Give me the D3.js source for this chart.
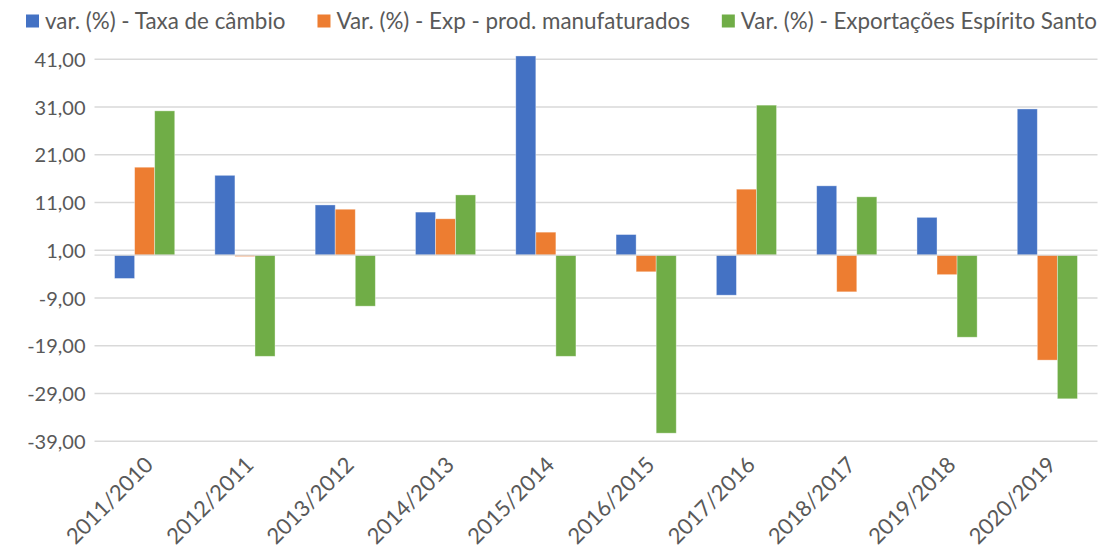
<!DOCTYPE html>
<html>
<head>
<meta charset="utf-8">
<script src="https://cdn.jsdelivr.net/npm/d3@7"></script>
<style>
    body { margin: 0; background: #fff; }
    text { font-family: Lato, "Open Sans", sans-serif; fill: #595959; }
</style>
</head>
<body>
<svg width="1105" height="549"></svg>
<script>
// categorias (eixo x)
var anos = ["2011/2010", "2012/2011", "2013/2012", "2014/2013", "2015/2014",
            "2016/2015", "2017/2016", "2018/2017", "2019/2018", "2020/2019"];

// series
var taxaCambio   = [-4.9, 16.7, 10.5, 9.0, 41.7, 4.3, -8.4, 14.5, 7.9, 30.6];
var expManuf     = [18.4, -0.3, 9.6, 7.6, 4.8, -3.5, 13.8, -7.7, -4.1, -22.0];
var expES        = [30.2, -21.2, -10.7, 12.6, -21.2, -37.3, 31.4, 12.2, -17.2, -30.1];

var nomes = ["var. (%) - Taxa de câmbio",
             "Var. (%) - Exp - prod. manufaturados",
             "Var. (%) - Exportações Espírito Santo"];
var cores = ["#4472C4", "#ED7D31", "#70AD47"];

var ticksY = [41, 31, 21, 11, 1, -9, -19, -29, -39];

var series = [taxaCambio, expManuf, expES];

var svg = d3.select("svg");

var mLeft = 94.5, mRight = 1097.5, mTop = 59.3, mBottom = 441.3;

var x = d3.scaleBand().domain(anos).range([mLeft, mRight]);
var x1 = d3.scaleBand().domain([0, 1, 2])
    .range([x.bandwidth() * 0.2, x.bandwidth() * 0.8]);
var y = d3.scaleLinear().domain([-39, 41]).range([mBottom, mTop]);

// formato com vírgula e hífen comum
var fmt = function(d) {
    return d3.format(".2f")(d).replace(".", ",").replace("\u2212", "-");
};

// grade
svg.append("g")
   .selectAll("line")
   .data(ticksY)
   .enter().append("line")
   .attr("x1", mLeft).attr("x2", mRight)
   .attr("y1", function(d) { return y(d); })
   .attr("y2", function(d) { return y(d); })
   .attr("stroke", "#d9d9d9")
   .attr("stroke-width", 1.5);

// eixo y
var eixoY = svg.append("g")
   .attr("transform", "translate(" + (mLeft - 9) + ",0)")
   .call(d3.axisLeft(y).tickValues(ticksY).tickFormat(fmt).tickSize(0).tickPadding(0));
eixoY.select(".domain").remove();
eixoY.selectAll("text")
   .style("font-size", "20px")
   .attr("fill", "#595959")
   .attr("dy", "0.35em");

// barras
var grupos = svg.append("g")
   .selectAll("g")
   .data(series)
   .enter().append("g")
   .attr("fill", function(d, i) { return cores[i]; });

grupos.each(function(vals, si) {
    d3.select(this).selectAll("rect")
      .data(vals)
      .enter().append("rect")
      .attr("x", function(d, i) { return x(anos[i]) + x1(si); })
      .attr("width", x1.bandwidth())
      .attr("y", function(d) { return d >= 0 ? y(d) : y(0); })
      .attr("height", function(d) { return Math.max(Math.abs(y(d) - y(0)), 0.8); })
      .attr("stroke", "#ffffff")
      .attr("stroke-opacity", 0.45)
      .attr("stroke-width", 0.8);
});

// linha do zero
svg.append("line")
   .attr("x1", mLeft).attr("x2", mRight)
   .attr("y1", y(0)).attr("y2", y(0))
   .attr("stroke", "#d9d9d9")
   .attr("stroke-width", 1.2);

// eixo x (rótulos rotacionados)
var eixoX = svg.append("g")
   .attr("transform", "translate(0," + mBottom + ")")
   .call(d3.axisBottom(x).tickSize(0).tickPadding(0));
eixoX.select(".domain").remove();
eixoX.selectAll("text")
   .style("font-size", "22px")
   .attr("fill", "#595959")
   .style("text-anchor", "end")
   .attr("dy", null)
   .attr("y", 0)
   .attr("transform", "translate(10,25) rotate(-45)");

// legenda
var leg = svg.append("g").attr("transform", "translate(0,21)");
var xpos = 26;
nomes.forEach(function(n, i) {
    leg.append("rect")
       .attr("x", xpos).attr("y", -6.5)
       .attr("width", 13).attr("height", 13)
       .attr("fill", cores[i]);
    var t = leg.append("text")
       .attr("x", xpos + 19).attr("y", 0)
       .attr("dy", "0.35em")
       .style("font-size", "22.4px")
       .text(n);
    xpos = xpos + 19 + t.node().getComputedTextLength() + 32;
});
</script>
</body>
</html>
